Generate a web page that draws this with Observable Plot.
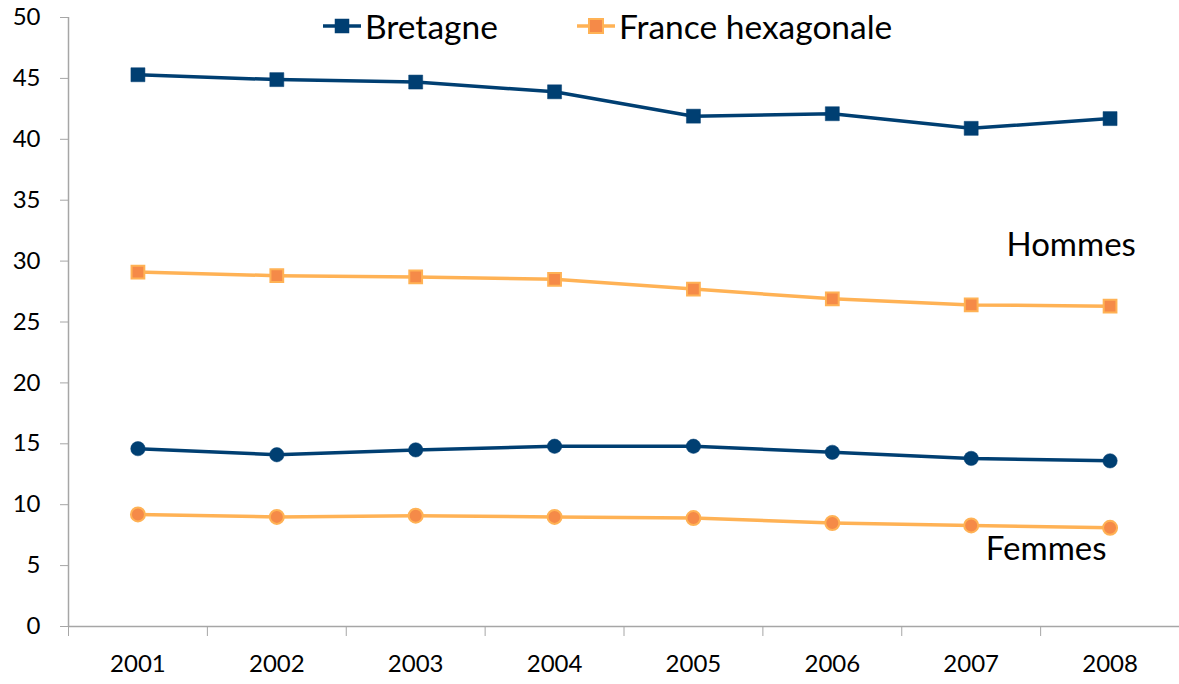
<!DOCTYPE html>
<html>
<head>
<meta charset="utf-8">
<script src="https://cdn.jsdelivr.net/npm/d3@7"></script>
<script src="https://cdn.jsdelivr.net/npm/@observablehq/plot@0.6"></script>
<style>
  html, body { margin: 0; padding: 0; background: #fff; }
  #wrap { position: relative; width: 1179px; height: 684px; font-family: Lato, "Open Sans", sans-serif; }
  #legend { position: absolute; top: 4px; left: 0; width: 1179px; height: 44px; }
  .item { position: absolute; top: 0; display: flex; align-items: center; font-size: 33.5px; color: #000; height: 44px; }
  .item svg { margin-right: 4px; }
</style>
</head>
<body>
<div id="wrap">
  <div id="chart"></div>
  <div id="legend"></div>
</div>
<script>
const years = [2001, 2002, 2003, 2004, 2005, 2006, 2007, 2008];
const bretagneHommes = [45.3, 44.9, 44.7, 43.9, 41.9, 42.1, 40.9, 41.7];
const franceHommes   = [29.1, 28.8, 28.7, 28.5, 27.7, 26.9, 26.4, 26.3];
const bretagneFemmes = [14.6, 14.1, 14.5, 14.8, 14.8, 14.3, 13.8, 13.6];
const franceFemmes   = [9.2, 9.0, 9.1, 9.0, 8.9, 8.5, 8.3, 8.1];
const yTicks = [0, 5, 10, 15, 20, 25, 30, 35, 40, 45, 50];
const seriesNames = ["Bretagne", "France hexagonale"];
const annotations = [
  {label: "Hommes", year: 2007.72, value: 31.3},
  {label: "Femmes", year: 2007.54, value: 6.3}
];

const blue = "#003F72";
const orangeLine = "#FFB255";
const orangeFill = "#F58A48";

function rows(values, series, sex) {
  return years.map((y, i) => ({year: y, value: values[i], series, sex}));
}
const data = [
  ...rows(bretagneHommes, "Bretagne", "Hommes"),
  ...rows(franceHommes, "France hexagonale", "Hommes"),
  ...rows(bretagneFemmes, "Bretagne", "Femmes"),
  ...rows(franceFemmes, "France hexagonale", "Femmes")
];
const edges = [...years.map(y => y - 0.5), years[years.length - 1] + 0.5];
const xDomain = [edges[0], edges[edges.length - 1]];

const sel = (s, sex) => data.filter(d => d.series === s && d.sex === sex);

const marks = [];
marks.push(Plot.ruleY([0], {stroke: "#A6A6A6", strokeWidth: 1.5}));
marks.push(Plot.ruleX([xDomain[0]], {y1: 0, y2: 50, stroke: "#A6A6A6", strokeWidth: 1.5}));
marks.push(Plot.axisY({ticks: yTicks, tickSize: 8, tickPadding: 20, stroke: "#A6A6A6", fontSize: 24, tickFormat: d => String(d), color: "#000", label: null}));
marks.push(Plot.axisX({ticks: edges, tickSize: 10, tickFormat: () => "", stroke: "#A6A6A6", label: null}));
marks.push(Plot.axisX({ticks: years, tickSize: 0, tickPadding: 28, fontSize: 24, tickFormat: d => String(d), color: "#000", label: null}));

for (const sex of ["Hommes", "Femmes"]) {
  const sym = sex === "Hommes" ? "square" : "circle";
  const rB = sex === "Hommes" ? 7.9 : 7.2;
  const rF = sex === "Hommes" ? 7.2 : 7.0;
  marks.push(Plot.line(sel("Bretagne", sex), {x: "year", y: "value", stroke: blue, strokeWidth: 3.5}));
  marks.push(Plot.line(sel("France hexagonale", sex), {x: "year", y: "value", stroke: orangeLine, strokeWidth: 3.5}));
  marks.push(Plot.dot(sel("Bretagne", sex), {x: "year", y: "value", symbol: sym, r: rB, fill: blue, stroke: blue, strokeWidth: 0.5}));
  marks.push(Plot.dot(sel("France hexagonale", sex), {x: "year", y: "value", symbol: sym, r: rF, fill: orangeFill, stroke: orangeLine, strokeWidth: 2}));
}
marks.push(Plot.text(annotations, {x: "year", y: "value", text: "label", fontSize: 33, fill: "#000", textAnchor: "middle"}));

const chart = Plot.plot({
  width: 1179,
  height: 684,
  marginLeft: 68,
  marginRight: 0,
  marginTop: 17,
  marginBottom: 58,
  style: {fontFamily: "Lato, 'Open Sans', sans-serif", background: "#fff"},
  x: {type: "linear", domain: xDomain, axis: null},
  y: {domain: [0, 50], axis: null},
  marks
});
document.getElementById("chart").appendChild(chart);

const legend = document.getElementById("legend");
const legendPos = [323, 577];
const legendStyles = [
  {line: blue, fill: blue, stroke: blue, sw: 0.5},
  {line: orangeLine, fill: orangeFill, stroke: orangeLine, sw: 2}
];
seriesNames.forEach((name, i) => {
  const st = legendStyles[i];
  const div = document.createElement("div");
  div.className = "item";
  div.style.left = legendPos[i] + "px";
  div.innerHTML = `<svg width="38" height="20"><line x1="0" x2="38" y1="10" y2="10" stroke="${st.line}" stroke-width="3.5"/><rect x="12" y="3" width="14" height="14" fill="${st.fill}" stroke="${st.stroke}" stroke-width="${st.sw}"/></svg><span>${name}</span>`;
  legend.appendChild(div);
});
</script>
</body>
</html>
